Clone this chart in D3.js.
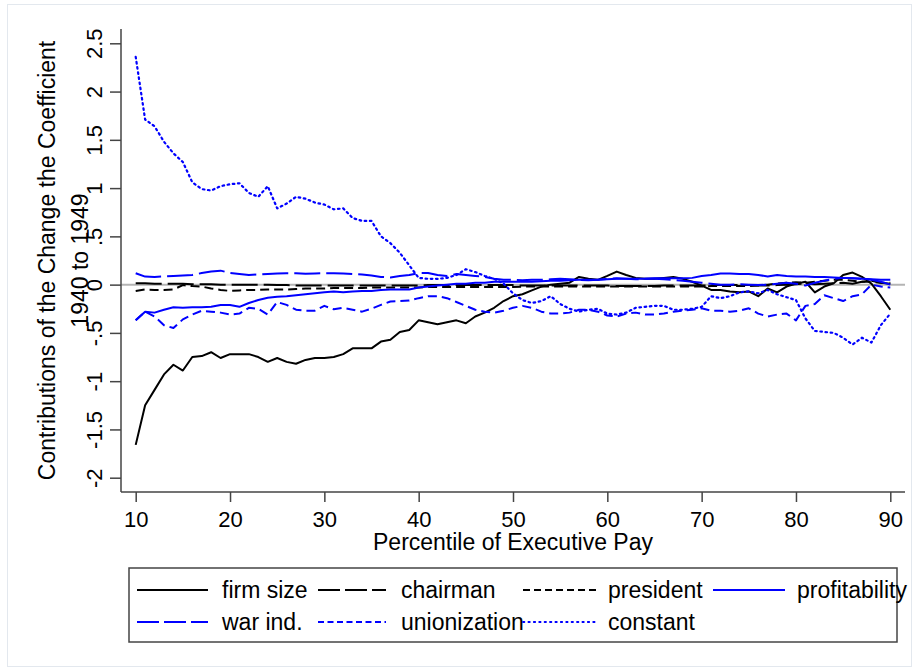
<!DOCTYPE html>
<html>
<head>
<meta charset="utf-8">
<script src="https://cdn.jsdelivr.net/npm/d3@7"></script>
<style>
  body { margin: 0; background: #fff; }
  text { font-family: "Liberation Sans", Arial, Helvetica, sans-serif; fill: #000; }
</style>
</head>
<body>
<div id="chart"></div>
<script>
// percentiles of executive pay
const pct = d3.range(10, 91);

const firmSize = [
  -1.66, -1.25, -1.09, -0.93, -0.83, -0.89, -0.75, -0.74, -0.70, -0.76,
  -0.72, -0.72, -0.72, -0.75, -0.80, -0.76, -0.80, -0.82, -0.78, -0.76,
  -0.76, -0.75, -0.72, -0.66, -0.66, -0.66, -0.59, -0.57, -0.49, -0.47,
  -0.37, -0.39, -0.41, -0.39, -0.37, -0.40, -0.33, -0.29, -0.24, -0.17,
  -0.12, -0.10, -0.06, -0.02, 0.00, 0.01, 0.02, 0.08, 0.06, 0.05,
  0.09, 0.135, 0.10, 0.07, 0.06, 0.06, 0.07, 0.08, 0.06, 0.03,
  -0.01, -0.055, -0.055, -0.07, -0.08, -0.07, -0.12, -0.04, -0.08, -0.02,
  0.01, 0.03, -0.08, -0.02, 0.015, 0.10, 0.125, 0.08, 0.01, -0.12,
  -0.26
];
const chairman = [
  0.015, 0.015, 0.01, 0.01, 0.01, 0.01, 0.005, 0.005, 0.005, 0,
  0, 0, 0, 0, 0, -0.005, -0.005, -0.01, -0.01, -0.01,
  -0.01, -0.01, -0.01, -0.01, -0.01, -0.01, -0.01, -0.01, -0.01, -0.01,
  -0.01, -0.005, -0.005, -0.005, -0.005, -0.005, -0.005, -0.005, -0.005, -0.005,
  -0.005, -0.01, -0.01, -0.01, -0.01, -0.01, -0.01, -0.01, -0.01, -0.01,
  -0.01, -0.015, -0.015, -0.015, -0.015, -0.015, -0.01, -0.01, -0.01, -0.01,
  -0.01, -0.005, -0.005, -0.005, -0.005, -0.005, -0.01, -0.01, -0.005, 0,
  0.005, 0.01, 0.005, 0.01, 0.015, 0.02, 0.01, 0.03, 0.04, 0.02,
  0.01
];
const president = [
  -0.065, -0.05, -0.055, -0.055, -0.05, -0.005, -0.015, -0.02, -0.04, -0.055,
  -0.065, -0.06, -0.055, -0.055, -0.05, -0.05, -0.05, -0.045, -0.04, -0.04,
  -0.04, -0.035, -0.035, -0.035, -0.035, -0.03, -0.03, -0.03, -0.03, -0.03,
  -0.03, -0.025, -0.025, -0.025, -0.025, -0.025, -0.025, -0.025, -0.025, -0.025,
  -0.025, -0.02, -0.02, -0.02, -0.02, -0.02, -0.02, -0.02, -0.02, -0.02,
  -0.02, -0.02, -0.02, -0.02, -0.02, -0.02, -0.02, -0.02, -0.02, -0.02,
  -0.02, -0.015, -0.015, -0.015, -0.015, -0.015, -0.01, 0, 0.01, 0.02,
  0.025, 0.02, 0.03, 0.04, 0.05, 0.05, 0.04, 0.03, 0.03, 0.02,
  0.02
];
const profitability = [
  -0.37, -0.28, -0.29, -0.26, -0.235, -0.24, -0.235, -0.235, -0.23, -0.21,
  -0.21, -0.23, -0.19, -0.16, -0.135, -0.125, -0.12, -0.11, -0.10, -0.09,
  -0.08, -0.07, -0.08, -0.07, -0.065, -0.065, -0.055, -0.05, -0.05, -0.05,
  -0.03, -0.02, -0.01, 0.00, 0.01, 0.01, 0.02, 0.02, 0.03, 0.03,
  0.03, 0.03, 0.03, 0.035, 0.04, 0.04, 0.045, 0.05, 0.05, 0.05,
  0.055, 0.06, 0.06, 0.06, 0.06, 0.065, 0.065, 0.065, 0.065, 0.07,
  0.09, 0.10, 0.115, 0.115, 0.11, 0.11, 0.10, 0.085, 0.10, 0.09,
  0.085, 0.085, 0.08, 0.08, 0.075, 0.07, 0.065, 0.06, 0.055, 0.05,
  0.05
];
const warInd = [
  0.118, 0.083, 0.08, 0.085, 0.09, 0.095, 0.10, 0.12, 0.135, 0.145,
  0.12, 0.11, 0.10, 0.105, 0.11, 0.115, 0.118, 0.118, 0.112, 0.115,
  0.118, 0.118, 0.115, 0.11, 0.105, 0.095, 0.08, 0.075, 0.09, 0.10,
  0.12, 0.12, 0.10, 0.09, 0.11, 0.10, 0.09, 0.08, 0.06, 0.05,
  0.05, 0.045, 0.05, 0.05, 0.055, 0.06, 0.055, 0.05, 0.045, 0.05,
  0.06, 0.065, 0.06, 0.055, 0.06, 0.06, 0.055, 0.05, 0.04, 0.03,
  0.02, 0.01, 0.0, 0.0, 0.005, 0.0, -0.005, 0.0, 0.01, 0.02,
  0.01, -0.01, 0.02, 0.04, 0.06, 0.07, 0.065, 0.06, 0.05, 0.03,
  0.0
];
const unionization = [
  -0.37, -0.28, -0.33, -0.42, -0.45, -0.36, -0.31, -0.27, -0.28, -0.29,
  -0.31, -0.30, -0.24, -0.25, -0.31, -0.18, -0.21, -0.26, -0.27, -0.27,
  -0.22, -0.255, -0.24, -0.26, -0.28, -0.25, -0.21, -0.175, -0.17, -0.165,
  -0.14, -0.12, -0.12, -0.14, -0.18, -0.22, -0.26, -0.28, -0.29, -0.27,
  -0.24, -0.22, -0.24, -0.28, -0.30, -0.30, -0.29, -0.26, -0.26, -0.28,
  -0.32, -0.33, -0.30, -0.29, -0.31, -0.31, -0.30, -0.28, -0.27, -0.26,
  -0.245, -0.27, -0.27, -0.28, -0.27, -0.245, -0.30, -0.33, -0.31, -0.30,
  -0.37, -0.22, -0.20, -0.11, -0.14, -0.17, -0.12, -0.10, 0.00, -0.02,
  -0.03
];
const constant = [
  2.36, 1.71, 1.64, 1.48, 1.36, 1.27, 1.06, 0.99, 0.975, 1.02,
  1.04, 1.05, 0.95, 0.91, 1.02, 0.79, 0.84, 0.91, 0.89, 0.85,
  0.83, 0.78, 0.79, 0.69, 0.66, 0.66, 0.50, 0.43, 0.33, 0.20,
  0.07, 0.06, 0.06, 0.07, 0.10, 0.16, 0.13, 0.09, 0.06, 0.01,
  -0.09, -0.16, -0.19, -0.17, -0.12, -0.20, -0.25, -0.28, -0.26, -0.25,
  -0.30, -0.31, -0.29, -0.24, -0.23, -0.22, -0.22, -0.26, -0.26, -0.25,
  -0.23, -0.12, -0.14, -0.12, -0.08, -0.07, -0.09, -0.055, -0.10, -0.13,
  -0.16, -0.35, -0.48, -0.49, -0.50, -0.55, -0.62, -0.55, -0.60, -0.42,
  -0.30
];

const seriesNames = ['firm size', 'chairman', 'president', 'profitability', 'war ind.', 'unionization', 'constant'];
const seriesValues = [firmSize, chairman, president, profitability, warInd, unionization, constant];
const seriesColors = ['#000', '#000', '#000', '#0000ff', '#0000ff', '#0000ff', '#0000ff'];
const seriesDash = [null, '26,6', '9,5', null, '26,6', '9,5', '1.6,3.6'];

const xTicks = [10, 20, 30, 40, 50, 60, 70, 80, 90];
const yTicks = [-2, -1.5, -1, -0.5, 0, 0.5, 1, 1.5, 2, 2.5];

const W = 918, H = 671;
const svg = d3.select('#chart').append('svg')
  .attr('width', W)
  .attr('height', H);

// outer graph region
svg.append('rect')
  .attr('x', 7.5).attr('y', 4.5)
  .attr('width', 904).attr('height', 662)
  .attr('fill', '#fff')
  .attr('stroke', '#e3e8ee')
  .attr('stroke-width', 1);

const x = d3.scaleLinear().domain([10, 90]).range([135.7, 890.3]);
const y = d3.scaleLinear().domain([-2, 2.5]).range([477.7, 43.3]);
const plotL = 121, plotR = 905, plotT = 29, plotB = 492;

// yline 0
svg.append('line')
  .attr('x1', plotL).attr('x2', plotR)
  .attr('y1', y(0)).attr('y2', y(0))
  .attr('stroke', '#b4b4b4')
  .attr('stroke-width', 2);

const line = d3.line()
  .x((d, i) => x(pct[i]))
  .y(d => y(d));

seriesValues.forEach((vals, k) => {
  svg.append('path')
    .datum(vals)
    .attr('d', line)
    .attr('fill', 'none')
    .attr('stroke', seriesColors[k])
    .attr('stroke-width', k === 6 ? 2.2 : 2)
    .attr('stroke-linecap', k === 6 ? 'round' : 'butt')
    .attr('stroke-linejoin', 'round')
    .attr('stroke-dasharray', seriesDash[k]);
});

// y axis
const fmtY = d => d === 0 ? '0' : String(d).replace('0.', '.');
const gy = svg.append('g')
  .attr('transform', `translate(${plotL},0)`)
  .call(d3.axisLeft(y).tickValues(yTicks).tickSize(11).tickFormat(fmtY));
gy.select('.domain').attr('d', `M0,${plotT}V${plotB}`).attr('stroke', '#444').attr('stroke-width', 1.5);
gy.selectAll('.tick line').attr('stroke', '#444').attr('stroke-width', 1.5);
gy.selectAll('.tick text')
  .attr('x', null).attr('dy', null)
  .attr('transform', 'translate(-19.3,0) rotate(-90)')
  .attr('text-anchor', 'middle')
  .style('font-size', '22px')
  .attr('fill', '#000');

// x axis
const gx = svg.append('g')
  .attr('transform', `translate(0,${plotB})`)
  .call(d3.axisBottom(x).tickValues(xTicks).tickSize(10).tickFormat(d3.format('d')));
gx.select('.domain').attr('d', `M${plotL},0H${plotR}`).attr('stroke', '#444').attr('stroke-width', 1.5);
gx.selectAll('.tick line').attr('stroke', '#444').attr('stroke-width', 1.5);
gx.selectAll('.tick text')
  .attr('y', 35.3).attr('dy', null)
  .style('font-size', '22px')
  .attr('fill', '#000');

// axis titles
svg.append('text')
  .attr('x', (plotL + plotR) / 2).attr('y', 550)
  .attr('text-anchor', 'middle')
  .style('font-size', '23px')
  .text('Percentile of Executive Pay');

const yTitle = ['Contributions of the Change the Coefficient', '1940 to 1949'];
const yTitleX = [55, 87.5];
yTitle.forEach((t, i) => {
  svg.append('text')
    .attr('transform', `translate(${yTitleX[i]},${(plotT + plotB) / 2}) rotate(-90)`)
    .attr('text-anchor', 'middle')
    .style('font-size', '23px')
    .text(t);
});

// legend
const legBox = { x: 129, y: 568, w: 768, h: 74 };
svg.append('rect')
  .attr('x', legBox.x).attr('y', legBox.y)
  .attr('width', legBox.w).attr('height', legBox.h)
  .attr('fill', 'none')
  .attr('stroke', '#444')
  .attr('stroke-width', 1.5);

const keyStart = [137, 318, 523, 713];
const keyEnd = [208, 386, 598, 785];
const textStart = [222, 401, 608, 797];
const rowKeyY = [590, 622];
const rowTextY = [598, 630];
const legendDash = [null, '22,5', '7,4', null, '22,5', '6,3.5', '1.4,4'];

seriesNames.forEach((name, k) => {
  const row = Math.floor(k / 4), col = k % 4;
  svg.append('line')
    .attr('x1', keyStart[col]).attr('x2', keyEnd[col])
    .attr('y1', rowKeyY[row]).attr('y2', rowKeyY[row])
    .attr('stroke', seriesColors[k])
    .attr('stroke-width', k === 6 ? 1.8 : 2)
    .attr('stroke-linecap', k === 6 ? 'round' : 'butt')
    .attr('stroke-dasharray', legendDash[k]);
  svg.append('text')
    .attr('x', textStart[col]).attr('y', rowTextY[row])
    .style('font-size', '23px')
    .text(name);
});
</script>
</body>
</html>
